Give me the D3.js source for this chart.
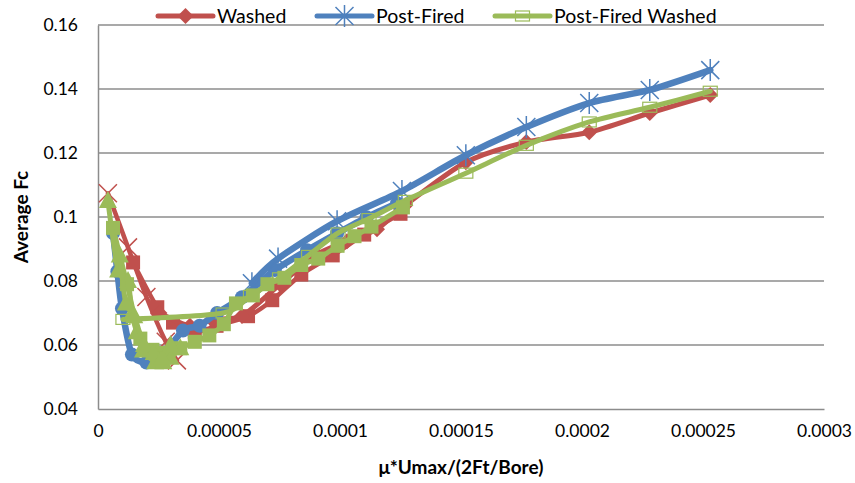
<!DOCTYPE html>
<html>
<head>
<meta charset="utf-8">
<script src="https://cdn.jsdelivr.net/npm/d3@7"></script>
<style>
  html, body { margin: 0; padding: 0; background: #fff; }
  svg { display: block; font-family: Lato, "Open Sans", sans-serif; }
</style>
</head>
<body>
<svg id="chart" width="855" height="483"></svg>
<script>
// ---- data -------------------------------------------------------------
const xTicks = [0, 0.00005, 0.0001, 0.00015, 0.0002, 0.00025, 0.0003];
const xTickLabels = ["0", "0.00005", "0.0001", "0.00015", "0.0002", "0.00025", "0.0003"];
const yTicks = [0.04, 0.06, 0.08, 0.1, 0.12, 0.14, 0.16];
const yTickLabels = ["0.04", "0.06", "0.08", "0.1", "0.12", "0.14", "0.16"];
const seriesNames = ["Washed", "Post-Fired", "Post-Fired Washed"];

// Washed
const washedX = [0.0000254, 0.0000380, 0.0000470, 0.0000595, 0.0000752, 0.0000905, 0.0001029, 0.0001153, 0.000127, 0.000152, 0.000177, 0.000203, 0.000228, 0.000253];
const washedY = [0.0700, 0.0660, 0.0680, 0.0691, 0.0790, 0.0883, 0.0924, 0.0962, 0.1037, 0.1171, 0.1234, 0.1265, 0.1325, 0.1381];
const washedRunAX = [0.0000145, 0.0000245, 0.0000310, 0.0000400, 0.0000490, 0.0000620, 0.0000720, 0.0000840, 0.0000970, 0.0001100, 0.0001250];
const washedRunAY = [0.0858, 0.0718, 0.0670, 0.0640, 0.0660, 0.0690, 0.0740, 0.0820, 0.0880, 0.0945, 0.1010];
const washedRunBX = [0.0000041, 0.0000124, 0.0000200, 0.0000280, 0.0000326];
const washedRunBY = [0.1074, 0.0905, 0.0750, 0.0610, 0.0552];

// Post-Fired
const postFiredX = [0.0000636, 0.0000744, 0.0000988, 0.0001256, 0.000152, 0.000177, 0.000203, 0.000228, 0.000253];
const postFiredY = [0.0793, 0.0870, 0.0987, 0.1081, 0.1193, 0.1281, 0.1356, 0.1397, 0.1459];
const postFiredRunAX = [0.0000062, 0.0000080, 0.0000099, 0.0000140, 0.0000200, 0.0000260, 0.0000351, 0.0000420, 0.0000492, 0.0000595, 0.0000731, 0.0000864, 0.0000988, 0.000111, 0.0001236];
const postFiredRunAY = [0.0950, 0.0830, 0.0714, 0.0570, 0.0545, 0.0560, 0.0645, 0.0660, 0.0700, 0.0749, 0.0834, 0.0896, 0.0949, 0.0999, 0.1043];

// Post-Fired Washed
const pfWashedX = [0.0000103, 0.0000517, 0.0000630, 0.0000750, 0.0000870, 0.0000992, 0.000112, 0.000127, 0.000152, 0.000177, 0.000203, 0.000228, 0.000253];
const pfWashedY = [0.0680, 0.0700, 0.0755, 0.0810, 0.0880, 0.0950, 0.0995, 0.1052, 0.1137, 0.1224, 0.1297, 0.1343, 0.1393];
const pfWashedRunAX = [0.0000062, 0.0000120, 0.0000175, 0.0000225, 0.0000280, 0.0000340, 0.0000400, 0.0000460, 0.0000520, 0.0000570, 0.0000640, 0.0000700, 0.0000770, 0.0000840, 0.0000910, 0.0000990, 0.0001060, 0.0001130, 0.0001260];
const pfWashedRunAY = [0.0966, 0.0790, 0.0620, 0.0585, 0.0575, 0.0590, 0.0610, 0.0630, 0.0665, 0.0730, 0.0755, 0.0790, 0.0810, 0.0850, 0.0870, 0.0910, 0.0940, 0.0970, 0.1030];
const pfWashedRunBX = [0.0000041, 0.0000083, 0.0000124, 0.0000140, 0.0000160, 0.0000186, 0.0000236, 0.0000270, 0.0000300, 0.0000340];
const pfWashedRunBY = [0.1050, 0.0833, 0.0800, 0.0698, 0.0640, 0.0583, 0.0546, 0.0546, 0.0560, 0.0590];
const pfWashedRunCX = [0.0000090, 0.0000115, 0.0000150, 0.0000190, 0.0000230, 0.0000265, 0.0000300];
const pfWashedRunCY = [0.0880, 0.0730, 0.0690, 0.0600, 0.0575, 0.0560, 0.0600];

// ---- styling -------------------------------------------------------------
const RED = "#c0504d", BLUE = "#4f81bd", GREEN = "#9bbb59";

const runs = [
  { xs: washedRunBX, ys: washedRunBY, color: RED, width: 4.5, marker: "x" },
  { xs: washedRunAX, ys: washedRunAY, color: RED, width: 4.5, marker: "square" },
  { xs: washedX, ys: washedY, color: RED, width: 5, marker: "diamond" },
  { xs: postFiredRunAX, ys: postFiredRunAY, color: BLUE, width: 6.5, marker: "circle" },
  { xs: postFiredX, ys: postFiredY, color: BLUE, width: 6.5, marker: "asterisk" },
  { xs: pfWashedX, ys: pfWashedY, color: GREEN, width: 5, marker: "openSquare" },
  { xs: pfWashedRunAX, ys: pfWashedRunAY, color: GREEN, width: 5, marker: "square" },
  { xs: pfWashedRunBX, ys: pfWashedRunBY, color: GREEN, width: 5, marker: "triangle" },
  { xs: pfWashedRunCX, ys: pfWashedRunCY, color: GREEN, width: 5, marker: "triangle" }
];

const svg = d3.select("#chart");
const margin = { left: 98, right: 31, top: 25, bottom: 74 };
const W = 855, H = 483;

const x = d3.scaleLinear().domain([0, 0.0003]).range([margin.left, W - margin.right]);
const y = d3.scaleLinear().domain([0.04, 0.16]).range([H - margin.bottom, margin.top]);

const GRID = "#8c8c8c";

// gridlines
svg.append("g")
  .selectAll("line")
  .data(yTicks.slice(1))
  .join("line")
  .attr("x1", x(0)).attr("x2", x(0.0003))
  .attr("y1", d => y(d)).attr("y2", d => y(d))
  .attr("stroke", GRID).attr("stroke-width", 1.5);

// axes
const yAxis = d3.axisLeft(y).tickValues(yTicks).tickFormat((d, i) => yTickLabels[i]).tickSize(0).tickPadding(20);
const xAxis = d3.axisBottom(x).tickValues(xTicks).tickFormat((d, i) => xTickLabels[i]).tickSize(0).tickPadding(16);

const gy = svg.append("g").attr("transform", `translate(${x(0)},0)`).call(yAxis);
const gx = svg.append("g").attr("transform", `translate(0,${y(0.04)})`).call(xAxis);
[gx, gy].forEach(g => {
  g.select(".domain").attr("stroke", GRID).attr("stroke-width", 1.5);
  g.selectAll("text").attr("font-size", 17.5).attr("fill", "#000").attr("font-family", "Lato, sans-serif");
});

// axis titles
svg.append("text")
  .attr("x", (x(0) + x(0.0003)) / 2).attr("y", 474)
  .attr("text-anchor", "middle").attr("font-weight", "bold").attr("font-size", 19)
  .text("μ*Umax/(2Ft/Bore)");
svg.append("text")
  .attr("transform", `translate(28,${(y(0.04) + y(0.16)) / 2}) rotate(-90)`)
  .attr("text-anchor", "middle").attr("font-weight", "bold").attr("font-size", 19)
  .text("Average Fc");

// markers
function drawMarker(g, type, cx, cy, color) {
  const s = 7;
  if (type === "diamond") {
    g.append("path").attr("d", `M${cx},${cy - 8}L${cx + 8},${cy}L${cx},${cy + 8}L${cx - 8},${cy}Z`).attr("fill", color);
  } else if (type === "square") {
    g.append("rect").attr("x", cx - s).attr("y", cy - s).attr("width", 2 * s).attr("height", 2 * s).attr("fill", color);
  } else if (type === "openSquare") {
    g.append("rect").attr("x", cx - 7).attr("y", cy - 5).attr("width", 14).attr("height", 10)
      .attr("fill", "none").attr("stroke", color).attr("stroke-width", 1.2);
  } else if (type === "triangle") {
    g.append("path").attr("d", `M${cx},${cy - 10}L${cx + 9},${cy + 7}L${cx - 9},${cy + 7}Z`).attr("fill", color);
  } else if (type === "circle") {
    g.append("circle").attr("cx", cx).attr("cy", cy).attr("r", 7).attr("fill", color);
  } else if (type === "x") {
    g.append("path").attr("d", `M${cx - 9},${cy - 9}L${cx + 9},${cy + 9}M${cx - 9},${cy + 9}L${cx + 9},${cy - 9}`)
      .attr("stroke", color).attr("stroke-width", 1.5);
  } else if (type === "asterisk") {
    g.append("path").attr("d", `M${cx - 9},${cy - 9}L${cx + 9},${cy + 9}M${cx - 9},${cy + 9}L${cx + 9},${cy - 9}M${cx},${cy - 11}L${cx},${cy + 11}`)
      .attr("stroke", color).attr("stroke-width", 1.5);
  }
}

const line = d3.line().x(d => x(d[0])).y(d => y(d[1])).curve(d3.curveCardinal.tension(0.2));

const plot = svg.append("g");
runs.forEach(r => {
  const pts = r.xs.map((v, i) => [v, r.ys[i]]);
  const g = plot.append("g");
  g.append("path").datum(pts).attr("d", line)
    .attr("fill", "none").attr("stroke", r.color).attr("stroke-width", r.width)
    .attr("stroke-linejoin", "round").attr("stroke-linecap", "round");
  pts.forEach(p => drawMarker(g, r.marker, x(p[0]), y(p[1]), r.color));
});

// legend
const legendItems = [
  { name: seriesNames[0], color: RED, marker: "diamond", x0: 158 },
  { name: seriesNames[1], color: BLUE, marker: "asterisk", x0: 317 },
  { name: seriesNames[2], color: GREEN, marker: "openSquare", x0: 495 }
];
const lg = svg.append("g");
legendItems.forEach(it => {
  const g = lg.append("g");
  g.append("line").attr("x1", it.x0).attr("x2", it.x0 + 55).attr("y1", 16).attr("y2", 16)
    .attr("stroke", it.color).attr("stroke-width", 5).attr("stroke-linecap", "round");
  drawMarker(g, it.marker, it.x0 + 27.5, 16, it.color);
  g.append("text").attr("x", it.x0 + 59).attr("y", 23).attr("font-size", 19.5).text(it.name);
});
</script>
</body>
</html>
